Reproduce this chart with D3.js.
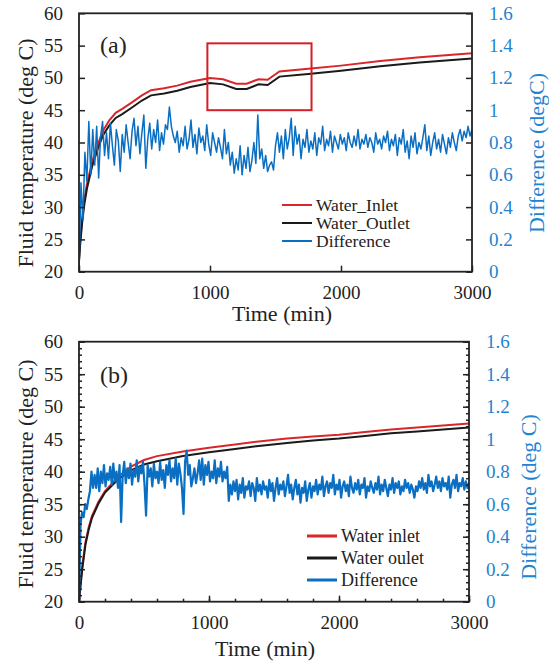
<!DOCTYPE html>
<html>
<head>
<meta charset="utf-8">
<script src="https://cdn.jsdelivr.net/npm/d3@7"></script>
<style>
  body { margin: 0; background: #fff; }
</style>
</head>
<body>
<div id="chart"></div>
<script>
// ---- data ----
const tempTicks = [20, 25, 30, 35, 40, 45, 50, 55, 60];
const diffTicks = [0, 0.2, 0.4, 0.6, 0.8, 1, 1.2, 1.4, 1.6];
const diffTickLabels = ["0", "0.2", "0.4", "0.6", "0.8", "1", "1.2", "1.4", "1.6"];
const timeTicks = [0, 1000, 2000, 3000];

// panel (a)
const timeA = [0, 10, 25, 40, 60, 100, 140, 180, 230, 280, 330, 410, 480, 550, 650, 750, 850, 1000, 1100, 1200, 1280, 1370, 1440, 1530, 1750, 2000, 2300, 2600, 3000];
const inletA = [22, 25, 28.5, 31, 33.5, 37, 39.5, 41.7, 43.4, 44.6, 45.2, 46.3, 47.3, 48.1, 48.4, 48.8, 49.4, 50.0, 49.8, 49.1, 49.1, 49.8, 49.7, 51.0, 51.4, 51.9, 52.6, 53.2, 53.8];
const outletA = [21.5, 24.5, 27.8, 30.3, 32.8, 36.3, 38.8, 41.0, 42.6, 43.8, 44.4, 45.5, 46.5, 47.3, 47.6, 48.0, 48.6, 49.2, 49.0, 48.3, 48.3, 49.0, 48.9, 50.2, 50.6, 51.1, 51.8, 52.4, 53.0];
const diffStepA = 15; // minutes between difference samples
const diffA = [
  0.00, 0.55, 0.32, 0.74, 0.56, 0.93, 0.60,
  0.88, 0.66, 0.90, 0.58, 0.84, 0.93, 0.72,
  0.86, 0.70, 0.92, 0.78, 0.66, 0.88, 0.81,
  0.62, 0.85, 0.74, 0.91, 0.80, 0.70, 0.87,
  0.95, 0.78, 0.90, 0.73, 0.86, 0.97, 0.64,
  0.82, 0.92, 0.76, 0.88, 0.80, 0.94, 0.75,
  0.86, 0.79, 0.91, 0.88, 1.02, 0.90, 0.84,
  0.80, 0.87, 0.74, 0.83, 0.78, 0.90, 0.76,
  0.82, 0.94, 0.77, 0.85, 0.73, 0.89, 0.80,
  0.84, 0.75, 0.91, 0.79, 0.72, 0.86, 0.80,
  0.74, 0.83, 0.77, 0.70, 0.88, 0.73, 0.80,
  0.66, 0.74, 0.61, 0.70, 0.63, 0.78, 0.60,
  0.72, 0.64, 0.77, 0.62, 0.69, 0.80, 0.67,
  0.97, 0.70, 0.76, 0.64, 0.72, 0.62, 0.66,
  0.68, 0.63, 0.78, 0.86, 0.74, 0.84, 0.70,
  0.88, 0.76, 0.83, 0.95, 0.72, 0.90, 0.79,
  0.85, 0.70, 0.82, 0.77, 0.88, 0.74, 0.81,
  0.76, 0.86, 0.72, 0.83, 0.79, 0.90, 0.75,
  0.82, 0.78, 0.87, 0.74, 0.84, 0.80, 0.76,
  0.85, 0.79, 0.83, 0.75, 0.86, 0.80, 0.77,
  0.84, 0.78, 0.88, 0.76, 0.82, 0.79, 0.85,
  0.77, 0.83, 0.80, 0.74, 0.86, 0.79, 0.82,
  0.76, 0.84, 0.80, 0.87, 0.75, 0.82, 0.78,
  0.85, 0.72, 0.83, 0.79, 0.88, 0.74, 0.81,
  0.70, 0.84, 0.77, 0.86, 0.73, 0.80, 0.76,
  0.83, 0.91, 0.75, 0.84, 0.72, 0.80, 0.86,
  0.76, 0.82, 0.74, 0.85, 0.79, 0.73, 0.83,
  0.77, 0.86, 0.80, 0.75, 0.84, 0.88, 0.81,
  0.87, 0.83, 0.90, 0.84, 0.88
];
// zoom box in panel (a): [time from, time to], [temp low, temp high]
const boxTimeA = [980, 1775];
const boxTempA = [45, 55.35];

// panel (b)
const timeB = [0, 10, 25, 50, 75, 100, 150, 200, 300, 400, 500, 600, 800, 1000, 1200, 1400, 1600, 1800, 2000, 2200, 2400, 2600, 2800, 3000];
const inletB = [20, 22.5, 25.5, 29.2, 31.5, 33.2, 35.4, 37.0, 39.2, 40.8, 41.8, 42.4, 43.1, 43.7, 44.2, 44.7, 45.1, 45.4, 45.7, 46.1, 46.5, 46.8, 47.1, 47.4];
const outletB = [20, 22.0, 25.0, 28.8, 31.1, 32.9, 35.1, 36.8, 38.8, 40.2, 41.1, 41.6, 42.4, 43.0, 43.5, 44.0, 44.4, 44.8, 45.1, 45.5, 45.9, 46.2, 46.5, 46.8];
const diffStepB = 12;
const diffB = [
  0.00, 0.48, 0.55, 0.52, 0.60, 0.57, 0.63, 0.68, 0.80, 0.70,
  0.78, 0.70, 0.82, 0.68, 0.80, 0.73, 0.84, 0.71, 0.79, 0.75,
  0.83, 0.72, 0.85, 0.74, 0.80, 0.70, 0.84, 0.49, 0.78, 0.86,
  0.73, 0.82, 0.76, 0.85, 0.72, 0.81, 0.77, 0.87, 0.74, 0.83,
  0.79, 0.86, 0.72, 0.53, 0.84, 0.77, 0.82, 0.71, 0.85, 0.76,
  0.80, 0.73, 0.86, 0.75, 0.81, 0.70, 0.84, 0.78, 0.87, 0.74,
  0.82, 0.76, 0.88, 0.72, 0.85, 0.79, 0.70, 0.54, 0.86, 0.93,
  0.78, 0.84, 0.71, 0.76, 0.82, 0.73, 0.79, 0.87, 0.75, 0.88,
  0.72, 0.84, 0.78, 0.86, 0.74, 0.80, 0.76, 0.87, 0.73, 0.82,
  0.77, 0.86, 0.74, 0.80, 0.76, 0.83, 0.62, 0.72, 0.66, 0.74,
  0.68, 0.75, 0.63, 0.72, 0.67, 0.76, 0.64, 0.71, 0.69, 0.74,
  0.65, 0.73, 0.70, 0.62, 0.76, 0.68, 0.72, 0.66, 0.74, 0.69,
  0.71, 0.64, 0.75, 0.68, 0.73, 0.62, 0.70, 0.76, 0.66, 0.72,
  0.69, 0.74, 0.65, 0.71, 0.78, 0.67, 0.72, 0.63, 0.70, 0.75,
  0.66, 0.72, 0.61, 0.70, 0.67, 0.74, 0.62, 0.69, 0.73, 0.64,
  0.71, 0.68, 0.75, 0.66, 0.72, 0.69, 0.77, 0.65, 0.71, 0.74,
  0.67, 0.73, 0.70, 0.78, 0.66, 0.72, 0.69, 0.75, 0.64, 0.71,
  0.74, 0.68, 0.72, 0.65, 0.77, 0.70, 0.67, 0.73, 0.69, 0.75,
  0.66, 0.72, 0.70, 0.76, 0.64, 0.71, 0.68, 0.74, 0.70, 0.67,
  0.73, 0.69, 0.77, 0.66, 0.72, 0.68, 0.75, 0.70, 0.65, 0.72,
  0.69, 0.76, 0.67, 0.73, 0.70, 0.74, 0.66, 0.71, 0.68, 0.75,
  0.70, 0.73, 0.67, 0.72, 0.69, 0.64, 0.71, 0.68, 0.74, 0.70,
  0.76, 0.69, 0.73, 0.67, 0.78, 0.71, 0.74, 0.68, 0.72, 0.77,
  0.70, 0.74, 0.68, 0.76, 0.71, 0.73, 0.69, 0.77, 0.64, 0.72,
  0.75, 0.70, 0.78, 0.68, 0.73, 0.71, 0.76, 0.69, 0.74, 0.70, 0.73
];

const RED = "#d9262b", BLACK = "#1a1a1a", BLUE = "#0a6fc2", BLUE_TXT = "#2383d0";
const FONT = "'Liberation Serif', 'Times New Roman', Tinos, 'DejaVu Serif', serif";

const width = 549, height = 661;

const svg = d3.select("#chart")
    .append("svg")
    .attr("width", width)
    .attr("height", height)
    .attr("font-family", FONT)
    .style("display", "block");

svg.append("rect").attr("width", width).attr("height", height).attr("fill", "#fff");

function cleanAxis(a) {
    a.select(".domain").remove();
    a.attr("font-family", null).attr("font-size", null);
}

function drawPanel(p) {
    const x = d3.scaleLinear().domain([0, 3000]).range([p.left, p.right]);
    const y = d3.scaleLinear().domain([20, 60]).range([p.bottom, p.top]);
    const y2 = d3.scaleLinear().domain([0, 1.6]).range([p.bottom, p.top]);

    const g = svg.append("g");
    const clipId = "clip" + p.id;
    svg.append("clipPath").attr("id", clipId)
        .append("rect")
        .attr("x", p.left).attr("y", p.top)
        .attr("width", p.right - p.left).attr("height", p.bottom - p.top);

    const plot = g.append("g").attr("clip-path", `url(#${clipId})`);

    const tempLine = d3.line()
        .x(d => x(d[0]))
        .y(d => y(d[1]));
    const diffLine = d3.line()
        .x((d, i) => x(i * p.diffStep))
        .y(d => y2(d));

    plot.append("path")
        .datum(d3.zip(p.time, p.inlet))
        .attr("fill", "none")
        .attr("stroke", RED)
        .attr("stroke-width", p.tempWidth)
        .attr("d", tempLine);

    plot.append("path")
        .datum(d3.zip(p.time, p.outlet))
        .attr("fill", "none")
        .attr("stroke", BLACK)
        .attr("stroke-width", p.tempWidth)
        .attr("d", tempLine);

    plot.append("path")
        .datum(p.diff)
        .attr("fill", "none")
        .attr("stroke", BLUE)
        .attr("stroke-width", p.diffWidth)
        .attr("stroke-linejoin", "round")
        .attr("d", diffLine);

    if (p.box) {
        g.append("rect")
            .attr("x", x(p.box.time[0]))
            .attr("y", y(p.box.temp[1]))
            .attr("width", x(p.box.time[1]) - x(p.box.time[0]))
            .attr("height", y(p.box.temp[0]) - y(p.box.temp[1]))
            .attr("fill", "none")
            .attr("stroke", "#d41f26")
            .attr("stroke-width", 2);
    }

    // minor ticks (panel b only)
    if (p.minor) {
        g.append("g")
            .attr("transform", `translate(${p.left},0)`)
            .call(d3.axisLeft(y).tickValues(d3.range(20, 61, 1)).tickSizeInner(-3).tickSizeOuter(0).tickFormat(""))
            .call(cleanAxis);
        g.append("g")
            .attr("transform", `translate(0,${p.bottom})`)
            .call(d3.axisBottom(x).tickValues(d3.range(0, 3001, 200)).tickSizeInner(-3).tickSizeOuter(0).tickFormat(""))
            .call(cleanAxis);
        g.append("g")
            .attr("transform", `translate(${p.right},0)`)
            .call(d3.axisRight(y2).tickValues(d3.range(0, 41).map(i => i * 0.04)).tickSizeInner(-3).tickSizeOuter(0).tickFormat(""))
            .call(cleanAxis);
    }

    const left = g.append("g")
        .attr("transform", `translate(${p.left},0)`)
        .call(d3.axisLeft(y).tickValues(tempTicks).tickSizeInner(-6).tickSizeOuter(0).tickPadding(16))
        .call(cleanAxis);
    left.selectAll("text").attr("fill", "#222");

    const bottom = g.append("g")
        .attr("transform", `translate(0,${p.bottom})`)
        .call(d3.axisBottom(x).tickValues(timeTicks).tickSizeInner(-6).tickSizeOuter(0).tickPadding(14).tickFormat(d3.format("d")))
        .call(cleanAxis);
    bottom.selectAll("text").attr("fill", "#222");

    const right = g.append("g")
        .attr("transform", `translate(${p.right},0)`)
        .call(d3.axisRight(y2).tickValues(diffTicks).tickSizeInner(-6).tickSizeOuter(0).tickPadding(17)
            .tickFormat((d, i) => diffTickLabels[i]))
        .call(cleanAxis);
    right.selectAll("text").attr("fill", BLUE_TXT);

    g.selectAll(".tick line").attr("stroke", "#222").attr("stroke-width", 1.5);
    g.selectAll(".tick text")
        .attr("font-family", FONT)
        .attr("font-size", 19);

    // frame
    g.append("rect")
        .attr("x", p.left).attr("y", p.top)
        .attr("width", p.right - p.left).attr("height", p.bottom - p.top)
        .attr("fill", "none")
        .attr("stroke", "#222")
        .attr("stroke-width", 1.8);

    // panel tag
    g.append("text")
        .attr("x", p.left + 21).attr("y", p.tagY)
        .attr("dy", "0.35em")
        .attr("font-family", FONT)
        .attr("font-size", 24)
        .attr("fill", "#222")
        .text(p.tag);

    // axis titles
    g.append("text")
        .attr("transform", `translate(25,${p.yTitleY}) rotate(-90)`)
        .attr("text-anchor", "middle")
        .attr("dy", "0.35em")
        .attr("font-family", FONT)
        .attr("font-size", 22)
        .attr("fill", "#222")
        .text("Fluid temperature (deg C)");

    g.append("text")
        .attr("transform", `translate(${p.y2TitleX},${p.y2TitleY}) rotate(-90)`)
        .attr("text-anchor", "middle")
        .attr("dy", "0.35em")
        .attr("font-family", FONT)
        .attr("font-size", 22)
        .attr("fill", BLUE_TXT)
        .text(p.y2Title);

    g.append("text")
        .attr("x", p.xTitleX).attr("y", p.xTitleY)
        .attr("text-anchor", "middle")
        .attr("dy", "0.35em")
        .attr("font-family", FONT)
        .attr("font-size", 22)
        .attr("fill", "#222")
        .text("Time (min)");

    // legend
    const legend = g.append("g")
        .attr("transform", `translate(${p.legX},${p.legY})`);
    const items = legend.selectAll("g")
        .data(p.legend)
        .enter().append("g")
        .attr("transform", (d, i) => `translate(0,${i * p.legGap})`);
    items.append("line")
        .attr("x1", 0).attr("x2", 30)
        .attr("stroke", d => d.color)
        .attr("stroke-width", p.legWidth);
    items.append("text")
        .attr("x", 34)
        .attr("dy", "0.35em")
        .attr("font-family", FONT)
        .attr("font-size", p.legFont)
        .attr("fill", "#222")
        .text(d => d.name);
}

drawPanel({
    id: "a", tag: "(a)", tagY: 45,
    left: 79, right: 472, top: 13.3, bottom: 271.7,
    time: timeA, inlet: inletA, outlet: outletA, diff: diffA, diffStep: diffStepA,
    tempWidth: 2, diffWidth: 1.5,
    box: { time: boxTimeA, temp: boxTempA },
    minor: false,
    yTitleY: 153, y2Title: "Difference (degC)", y2TitleX: 536, y2TitleY: 153,
    xTitleX: 282, xTitleY: 313,
    legX: 282, legY: 205, legGap: 18, legWidth: 2, legFont: 17.5,
    legend: [
        { name: "Water_Inlet", color: RED },
        { name: "Water_Outlet", color: BLACK },
        { name: "Difference", color: BLUE }
    ]
});

drawPanel({
    id: "b", tag: "(b)", tagY: 375,
    left: 79, right: 469, top: 341.7, bottom: 601.7,
    time: timeB, inlet: inletB, outlet: outletB, diff: diffB, diffStep: diffStepB,
    tempWidth: 2, diffWidth: 2.2,
    box: null,
    minor: true,
    yTitleY: 474, y2Title: "Difference (deg C)", y2TitleX: 528, y2TitleY: 497,
    xTitleX: 265, xTitleY: 648,
    legX: 307, legY: 536, legGap: 22, legWidth: 3, legFont: 18,
    legend: [
        { name: "Water inlet", color: RED },
        { name: "Water oulet", color: BLACK },
        { name: "Difference", color: BLUE }
    ]
});
</script>
</body>
</html>
